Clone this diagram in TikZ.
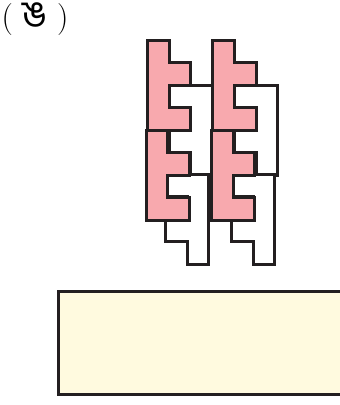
\documentclass[tikz,border=0pt]{standalone}
\usepackage{fontspec}
\newfontfamily\bengalifont[Script=Bengali]{Hind Siliguri}
\usepackage{xcolor}
\usepackage{tikz}
\definecolor{tilepink}{HTML}{F8A9AE}
\definecolor{basecream}{HTML}{FFFADF}
\definecolor{edgeblack}{HTML}{231F20}

% one tile of each colour, placed by its top-left corner (in pixels)
\newcommand{\pinkpiece}[2]{%
  \draw[pinktile, shift={(#1pt,-#2pt)}] (0,0) -- (1,0) -- (1,1) -- (2,1) -- (2,2) -- (1,2)
    -- (1,3) -- (2,3) -- (2,4) -- (0,4) -- cycle;}
\newcommand{\whitepiece}[2]{%
  \draw[whitetile, shift={(#1pt,-#2pt)}] (0,0) -- (2,0) -- (2,4) -- (1,4) -- (1,3) -- (0,3)
    -- (0,2) -- (1,2) -- (1,1) -- (0,1) -- cycle;}

\begin{document}
\begin{tikzpicture}[
    x=21.7pt, y=-22.5pt,
    every node/.style={font=\fontsize{32}{36}\selectfont},
    tile/.style={draw=edgeblack, line width=3pt, line join=miter},
    pinktile/.style={tile, fill=tilepink},
    whitetile/.style={tile, fill=white},
    base/.style={draw=edgeblack, line width=3pt, fill=basecream}
]
\useasboundingbox (0pt,0pt) rectangle (340pt,-405pt);
\node (label) at (35pt,-19pt) {( {\bengalifont\fontsize{38}{40}\selectfont ঙ} )};
% left column
\whitepiece{169.2}{85}
\whitepiece{165.5}{174}
\pinkpiece{147.5}{40}
\pinkpiece{146}{130}
% right column
\whitepiece{234.4}{85}
\whitepiece{231.5}{174}
\pinkpiece{212.7}{40.3}
\pinkpiece{211.5}{130}
% base block
\draw[base] (58pt,-291pt) rectangle (350pt,-394pt);
\end{tikzpicture}
\end{document}
